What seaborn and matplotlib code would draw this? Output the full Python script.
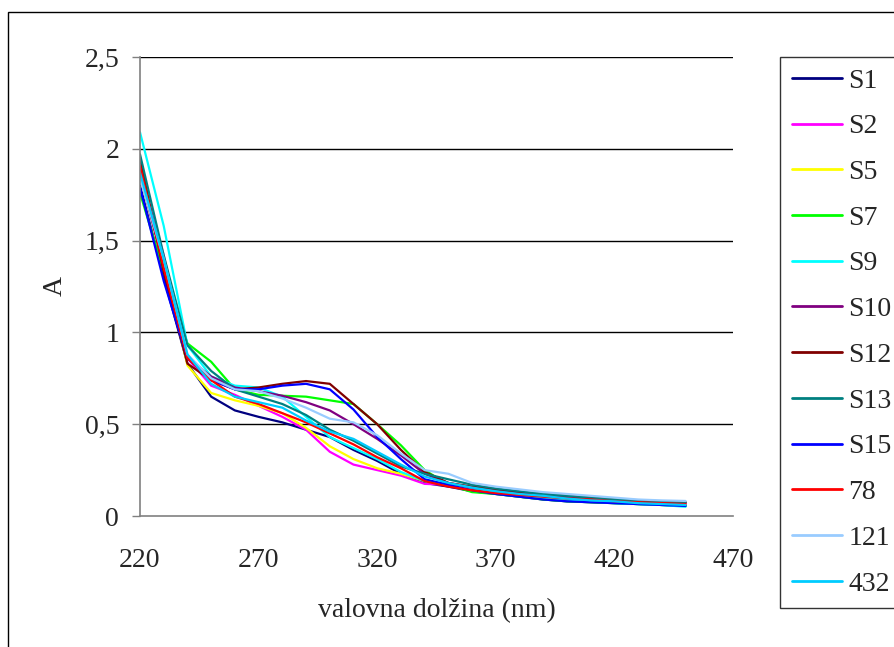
import seaborn as sns
import pandas as pd
import matplotlib.pyplot as plt
from matplotlib.patches import Rectangle

# wavelengths (nm)
wavelength = [220, 230, 240, 250, 260, 270, 280, 290, 300, 310, 320, 330,
              340, 350, 360, 370, 380, 390, 400, 410, 420, 430, 440, 450]

# absorbance
S1 = [1.80, 1.30, 0.83, 0.65, 0.575, 0.54, 0.51, 0.47, 0.43, 0.36, 0.30, 0.23,
      0.18, 0.16, 0.135, 0.12, 0.105, 0.09, 0.08, 0.075, 0.07, 0.065, 0.06, 0.055]
S2 = [1.88, 1.42, 0.86, 0.71, 0.66, 0.60, 0.54, 0.47, 0.35, 0.28, 0.25, 0.22,
      0.175, 0.17, 0.15, 0.13, 0.115, 0.10, 0.09, 0.085, 0.08, 0.075, 0.07, 0.065]
S5 = [1.85, 1.38, 0.82, 0.67, 0.63, 0.60, 0.56, 0.48, 0.38, 0.31, 0.26, 0.23,
      0.19, 0.17, 0.15, 0.13, 0.115, 0.10, 0.09, 0.08, 0.075, 0.07, 0.065, 0.06]
S7 = [1.76, 1.33, 0.94, 0.84, 0.69, 0.66, 0.655, 0.65, 0.63, 0.61, 0.50, 0.385,
      0.25, 0.17, 0.13, 0.12, 0.105, 0.09, 0.08, 0.075, 0.07, 0.065, 0.06, 0.055]
S9 = [2.09, 1.58, 0.93, 0.76, 0.71, 0.70, 0.65, 0.54, 0.43, 0.37, 0.31, 0.24,
      0.19, 0.17, 0.145, 0.13, 0.11, 0.10, 0.09, 0.08, 0.07, 0.065, 0.06, 0.05]
S10 = [1.86, 1.36, 0.86, 0.76, 0.70, 0.68, 0.655, 0.62, 0.575, 0.50, 0.42, 0.33,
       0.23, 0.18, 0.155, 0.14, 0.125, 0.11, 0.10, 0.09, 0.085, 0.08, 0.075, 0.07]
S12 = [1.95, 1.33, 0.83, 0.74, 0.69, 0.70, 0.72, 0.735, 0.72, 0.61, 0.50, 0.36,
       0.24, 0.18, 0.16, 0.145, 0.13, 0.12, 0.11, 0.10, 0.09, 0.085, 0.08, 0.075]
S13 = [1.97, 1.42, 0.93, 0.79, 0.69, 0.65, 0.61, 0.55, 0.47, 0.41, 0.34, 0.27,
       0.23, 0.20, 0.17, 0.15, 0.135, 0.12, 0.11, 0.10, 0.09, 0.085, 0.08, 0.075]
S15 = [1.79, 1.28, 0.86, 0.74, 0.69, 0.69, 0.71, 0.72, 0.69, 0.58, 0.43, 0.31,
       0.20, 0.17, 0.14, 0.12, 0.105, 0.09, 0.08, 0.075, 0.07, 0.065, 0.06, 0.055]
s78 = [1.91, 1.35, 0.86, 0.74, 0.65, 0.61, 0.56, 0.51, 0.45, 0.39, 0.32, 0.26,
       0.19, 0.16, 0.14, 0.125, 0.115, 0.105, 0.095, 0.09, 0.08, 0.075, 0.07, 0.065]
s121 = [1.84, 1.40, 0.88, 0.75, 0.69, 0.68, 0.64, 0.59, 0.53, 0.51, 0.44, 0.34,
        0.25, 0.23, 0.18, 0.16, 0.145, 0.13, 0.12, 0.11, 0.10, 0.09, 0.085, 0.082]
s432 = [1.87, 1.40, 0.88, 0.72, 0.65, 0.62, 0.59, 0.52, 0.46, 0.42, 0.35, 0.28,
        0.215, 0.18, 0.155, 0.135, 0.12, 0.11, 0.095, 0.085, 0.08, 0.07, 0.065, 0.06]

samples = ['S1', 'S2', 'S5', 'S7', 'S9', 'S10', 'S12', 'S13', 'S15', '78', '121', '432']
series = [S1, S2, S5, S7, S9, S10, S12, S13, S15, s78, s121, s432]
colors = ['#000080', '#FF00FF', '#FFFF00', '#00FF00', '#00FFFF', '#800080',
          '#800000', '#008080', '#0000FF', '#FF0000', '#99CCFF', '#00CCFF']


def build_frame():
    rows = []
    for name, vals in zip(samples, series):
        for w, a in zip(wavelength, vals):
            rows.append({'wavelength': w, 'A': a, 'sample': name})
    return pd.DataFrame(rows)


def main():
    sns.set_style('white')
    plt.rcParams['font.family'] = ['Liberation Serif', 'DejaVu Serif']

    df = build_frame()

    fig = plt.figure(figsize=(8.95, 6.47), dpi=100)
    ax = fig.add_axes([140 / 895, 1 - 516 / 647, (733 - 140) / 895, (516 - 57) / 647])

    sns.lineplot(data=df, x='wavelength', y='A', hue='sample', hue_order=samples,
                 palette=dict(zip(samples, colors)), linewidth=1.6, ax=ax, legend=True)

    ax.set_xlim(220, 470)
    ax.set_ylim(0, 2.5)
    ax.set_xticks([220, 270, 320, 370, 420, 470])
    ax.set_yticks([0, 0.5, 1, 1.5, 2, 2.5])
    ax.set_yticklabels(['0', '0,5', '1', '1,5', '2', '2,5'])

    for y in [0.5, 1, 1.5, 2, 2.5]:
        ax.axhline(y, color='black', linewidth=1, zorder=0)

    for side in ['top', 'right']:
        ax.spines[side].set_visible(False)
    for side in ['left', 'bottom']:
        ax.spines[side].set_color('#808080')
        ax.spines[side].set_linewidth(1.2)

    ax.tick_params(axis='x', length=0, pad=23, labelsize=20)
    ax.tick_params(axis='y', left=True, length=6, width=1, color='#808080',
                   pad=9, labelsize=20)

    ax.set_xlabel('valovna dolžina (nm)', fontsize=20, labelpad=18)
    ax.set_ylabel('A', fontsize=20, labelpad=12)

    # legend on the right, moved to figure level
    handles, labels = ax.get_legend_handles_labels()
    ax.get_legend().remove()
    leg = fig.legend(handles, labels, loc='upper left',
                     bbox_to_anchor=(780 / 895, 1 - 56.5 / 647),
                     fontsize=20, frameon=True, fancybox=False,
                     edgecolor='black', handlelength=1.8, handletextpad=0.25,
                     labelspacing=0.73, borderpad=0.42, borderaxespad=0)
    leg.get_frame().set_linewidth(1)
    for line in leg.get_lines():
        line.set_linewidth(2)

    # outer chart border
    fig.patches.append(Rectangle((8 / 895, -0.05), 1.2, 1 - 12 / 647 + 0.05,
                                 transform=fig.transFigure, fill=False,
                                 edgecolor='black', linewidth=1))

    fig.savefig('out.png', dpi=100)


if __name__ == '__main__':
    main()
